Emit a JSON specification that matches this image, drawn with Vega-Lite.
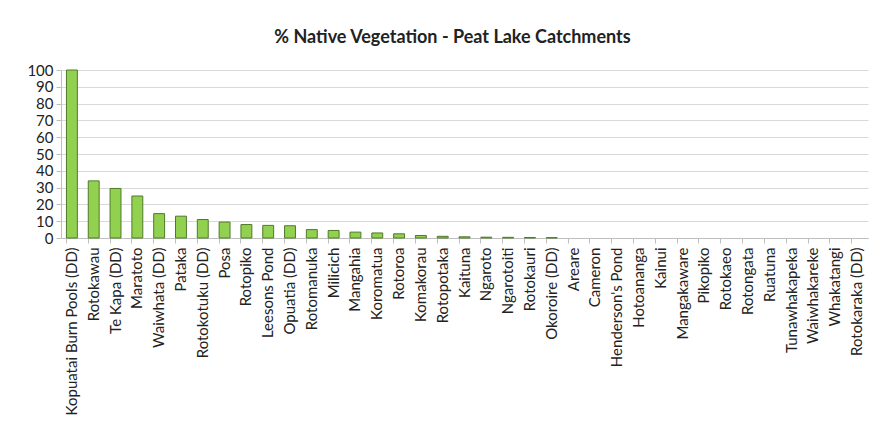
{
  "$schema": "https://vega.github.io/schema/vega-lite/v6.json",
  "autosize": {"type": "none"},
  "width": 807,
  "height": 168,
  "padding": {"left": 61, "top": 70, "right": 12, "bottom": 185},
  "background": "white",
  "title": {
    "text": "% Native Vegetation - Peat Lake Catchments",
    "font": "Lato",
    "fontSize": 18,
    "fontWeight": "bold",
    "color": "#222222",
    "offset": 16,
    "dx": -12,
    "anchor": "middle"
  },
  "data": {
    "values": [
      {"lake": "Kopuatai Burn Pools (DD)", "pct": 100},
      {"lake": "Rotokawau", "pct": 34},
      {"lake": "Te Kapa (DD)", "pct": 29.5},
      {"lake": "Maratoto", "pct": 25},
      {"lake": "Waiwhata (DD)", "pct": 14.5},
      {"lake": "Pataka", "pct": 13},
      {"lake": "Rotokotuku (DD)", "pct": 11},
      {"lake": "Posa", "pct": 9.5},
      {"lake": "Rotopiko", "pct": 8},
      {"lake": "Leesons Pond", "pct": 7.5},
      {"lake": "Opuatia (DD)", "pct": 7.3},
      {"lake": "Rotomanuka", "pct": 5},
      {"lake": "Milicich", "pct": 4.5},
      {"lake": "Mangahia", "pct": 3.5},
      {"lake": "Koromatua", "pct": 3},
      {"lake": "Rotoroa", "pct": 2.5},
      {"lake": "Komakorau", "pct": 1.5},
      {"lake": "Rotopotaka", "pct": 1},
      {"lake": "Kaituna", "pct": 0.7},
      {"lake": "Ngaroto", "pct": 0.5},
      {"lake": "Ngarotoiti", "pct": 0.4},
      {"lake": "Rotokauri", "pct": 0.3},
      {"lake": "Okoroire (DD)", "pct": 0.2},
      {"lake": "Areare", "pct": 0},
      {"lake": "Cameron", "pct": 0},
      {"lake": "Henderson's Pond", "pct": 0},
      {"lake": "Hotoananga", "pct": 0},
      {"lake": "Kainui", "pct": 0},
      {"lake": "Mangakaware", "pct": 0},
      {"lake": "Pikopiko", "pct": 0},
      {"lake": "Rotokaeo", "pct": 0},
      {"lake": "Rotongata", "pct": 0},
      {"lake": "Ruatuna", "pct": 0},
      {"lake": "Tunawhakapeka", "pct": 0},
      {"lake": "Waiwhakareke", "pct": 0},
      {"lake": "Whakatangi", "pct": 0},
      {"lake": "Rotokaraka (DD)", "pct": 0}
    ]
  },
  "mark": {"type": "bar", "color": "#92d050", "stroke": "#4f7a28", "strokeWidth": 1},
  "encoding": {
    "x": {
      "field": "lake",
      "type": "nominal",
      "sort": null,
      "scale": {"paddingInner": 0.5, "paddingOuter": 0.25},
      "axis": {
        "title": null,
        "labelAngle": -90,
        "labelAlign": "right",
        "labelBaseline": "middle",
        "labelFont": "Lato",
        "labelFontSize": 15,
        "labelColor": "#222222",
        "labelPadding": 4,
        "bandPosition": 0,
        "ticks": true,
        "tickColor": "#bfbfbf",
        "tickSize": 5,
        "domainColor": "#bfbfbf",
        "labelLimit": 300
      }
    },
    "y": {
      "field": "pct",
      "type": "quantitative",
      "scale": {"domain": [0, 100], "nice": false},
      "axis": {
        "title": null,
        "values": [0, 10, 20, 30, 40, 50, 60, 70, 80, 90, 100],
        "labelFont": "Lato",
        "labelFontSize": 15,
        "labelColor": "#222222",
        "grid": true,
        "gridColor": "#d9d9d9",
        "domainColor": "#bfbfbf",
        "tickColor": "#bfbfbf",
        "tickSize": 5,
        "labelPadding": 3
      }
    },
    "strokeOpacity": {"condition": {"test": "datum.pct > 0", "value": 1}, "value": 0}
  },
  "config": {"view": {"stroke": null}}
}
